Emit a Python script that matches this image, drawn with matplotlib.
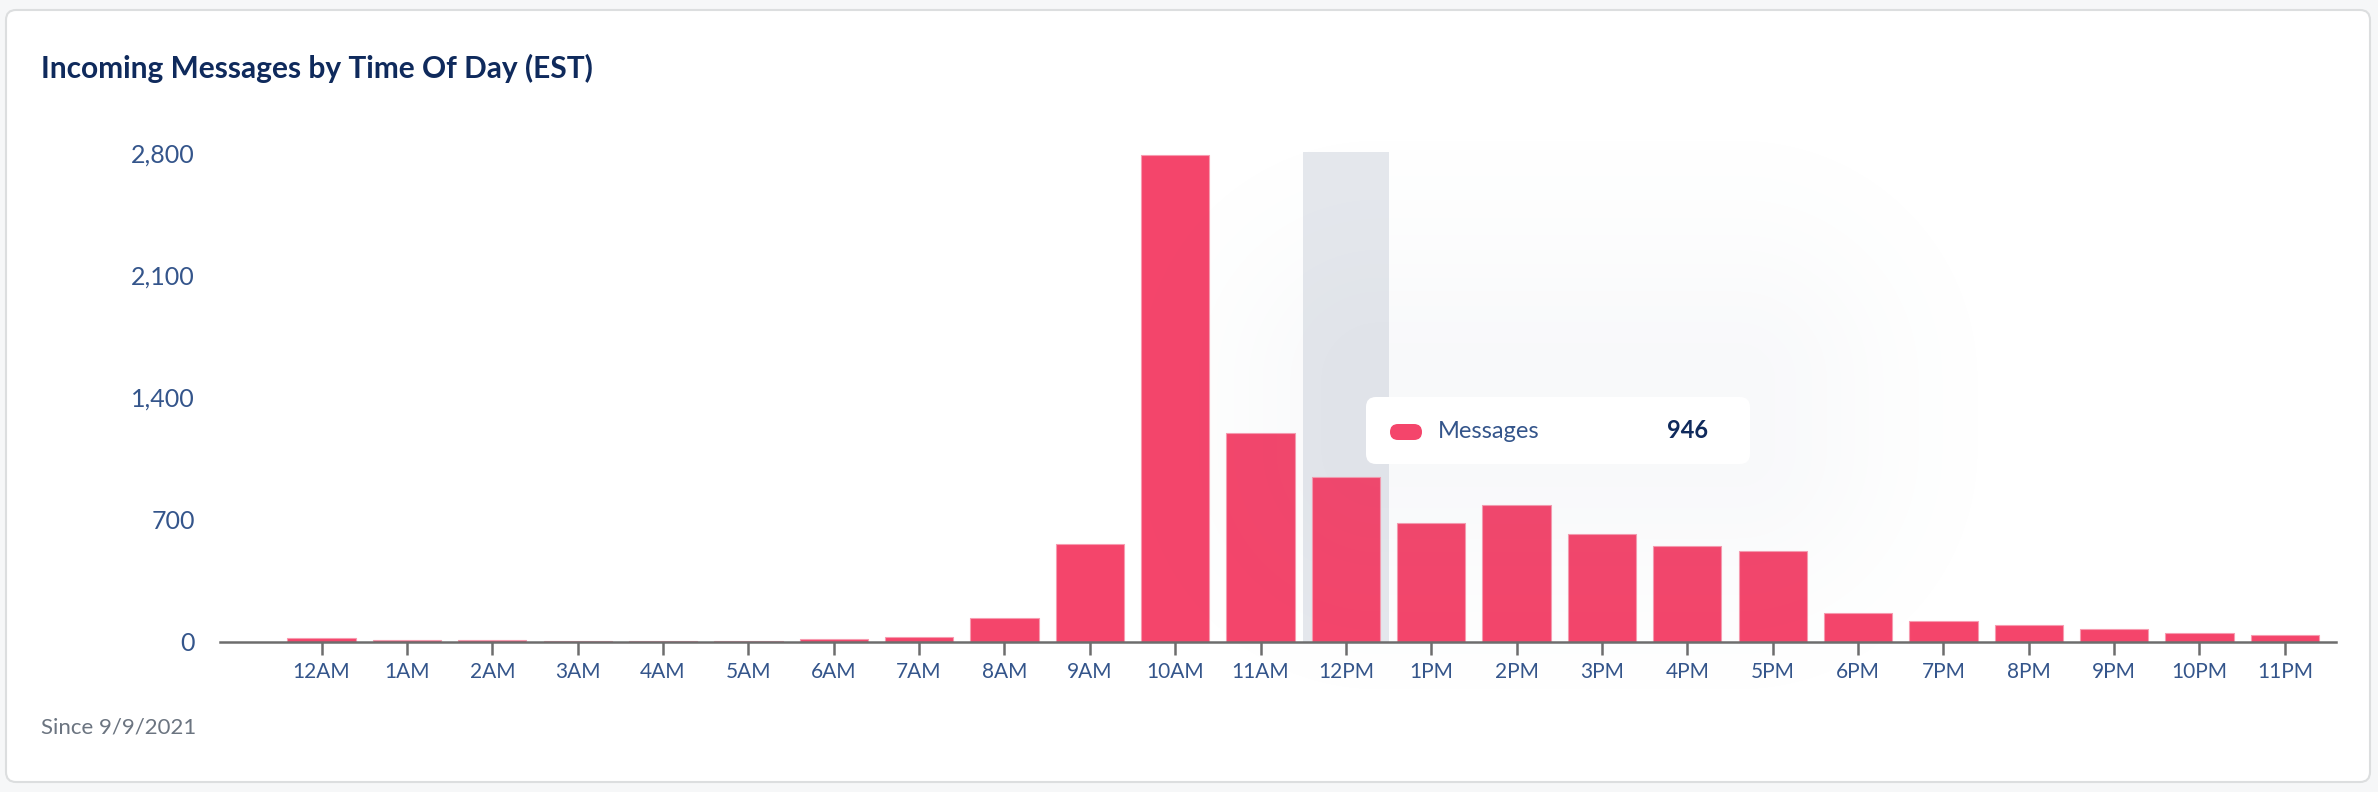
import numpy as np
import matplotlib.pyplot as plt
from matplotlib.patches import FancyBboxPatch

# hours of the day and incoming message counts
hours = ['12AM', '1AM', '2AM', '3AM', '4AM', '5AM', '6AM', '7AM', '8AM', '9AM', '10AM', '11AM',
         '12PM', '1PM', '2PM', '3PM', '4PM', '5PM', '6PM', '7PM', '8PM', '9PM', '10PM', '11PM']
messages = [21, 10, 11, 2, 2, 4, 12, 24, 135, 562, 2790, 1196,
            946, 680, 780, 616, 548, 521, 165, 120, 93, 70, 51, 40]
y_ticks = [0, 700, 1400, 2100, 2800]
hover_idx = 12

W, H = 2378, 792
plt.rcParams['font.family'] = ['Lato', 'DejaVu Sans']

fig = plt.figure(figsize=(W / 100, H / 100), dpi=100)
fig.patch.set_facecolor('#f6f7f8')

# background layer in pixel coords (card)
bg = fig.add_axes([0, 0, 1, 1], zorder=-5)
bg.axis('off')
bg.set_xlim(0, W)
bg.set_ylim(H, 0)
bg.add_patch(FancyBboxPatch((6, 10), 2364, 772, boxstyle='round,pad=0,rounding_size=10',
                            facecolor='white', edgecolor='#dcdedf', linewidth=1.5))
bg.text(41, 68, 'Incoming Messages by Time Of Day (EST)', fontsize=21.5, fontweight='bold',
        color='#0f2a5c', va='center', ha='left')
bg.text(41, 728, 'Since 9/9/2021', fontsize=16, color='#6b7480', va='center', ha='left')

ax = fig.add_axes([220 / W, 1 - 641.5 / H, (2336 - 220) / W, (641.5 - 151.5) / H], zorder=0)
ax.set_facecolor('none')
x = np.arange(len(hours))

# hover highlight band
ax.axvspan(hover_idx - 0.5, hover_idx + 0.5, color='#e5e8ed', zorder=0, lw=0)
ax.bar(x, messages, width=0.8, color='#f4456b', edgecolor='#f79bb0', linewidth=0.8, zorder=2)

ax.set_xlim(-1.19, 23.6)
ax.set_ylim(0, 2810)
ax.set_xticks(x)
ax.set_xticklabels(hours)
ax.set_yticks(y_ticks)
ax.set_yticklabels([f'{v:,}' for v in y_ticks])

for s in ['top', 'right', 'left']:
    ax.spines[s].set_visible(False)
ax.spines['bottom'].set_color('#6d6d6d')
ax.spines['bottom'].set_linewidth(1.8)
ax.spines['bottom'].set_zorder(3)
ax.tick_params(axis='x', length=9, width=1.8, color='#6d6d6d', labelsize=15,
               labelcolor='#34558b', pad=6)
ax.tick_params(axis='y', length=0, labelsize=18, labelcolor='#34558b', pad=18)

# overlay: soft shadow + tooltip, in pixel coords
ov = fig.add_axes([0, 0, 1, 1], zorder=5)
ov.axis('off')
gx, gy = np.meshgrid(np.arange(0, W, 4) + 2, np.arange(0, H, 4) + 2)
x0, x1, y0, y1 = 1380, 1740, 380, 450
dx = np.maximum(np.maximum(x0 - gx, gx - x1), 0)
dy = np.maximum(np.maximum(y0 - gy, gy - y1), 0)
d = np.hypot(dx, dy)
alpha = 0.05 * np.exp(-(d / 150.0) ** 2)
img = np.zeros(gx.shape + (4,))
img[..., 0] = 0.50
img[..., 1] = 0.54
img[..., 2] = 0.64
img[..., 3] = alpha
ov.imshow(img, extent=[0, W, H, 0], aspect='auto', interpolation='bilinear')
ov.set_xlim(0, W)
ov.set_ylim(H, 0)

ov.add_patch(FancyBboxPatch((1366, 397), 384, 67, boxstyle='round,pad=0,rounding_size=10',
                            facecolor='white', edgecolor='none', zorder=6))
ov.add_patch(FancyBboxPatch((1390, 424), 32, 16, boxstyle='round,pad=0,rounding_size=8',
                            facecolor='#f4456b', edgecolor='none', zorder=7))
ov.text(1438, 431, 'Messages', fontsize=17, color='#34558b', va='center', ha='left', zorder=8)
ov.text(1708, 431, f'{messages[hover_idx]:,}', fontsize=17, fontweight='bold',
        color='#0f2a5c', va='center', ha='right', zorder=8)

fig.savefig('out.png', dpi=100, facecolor=fig.get_facecolor())
